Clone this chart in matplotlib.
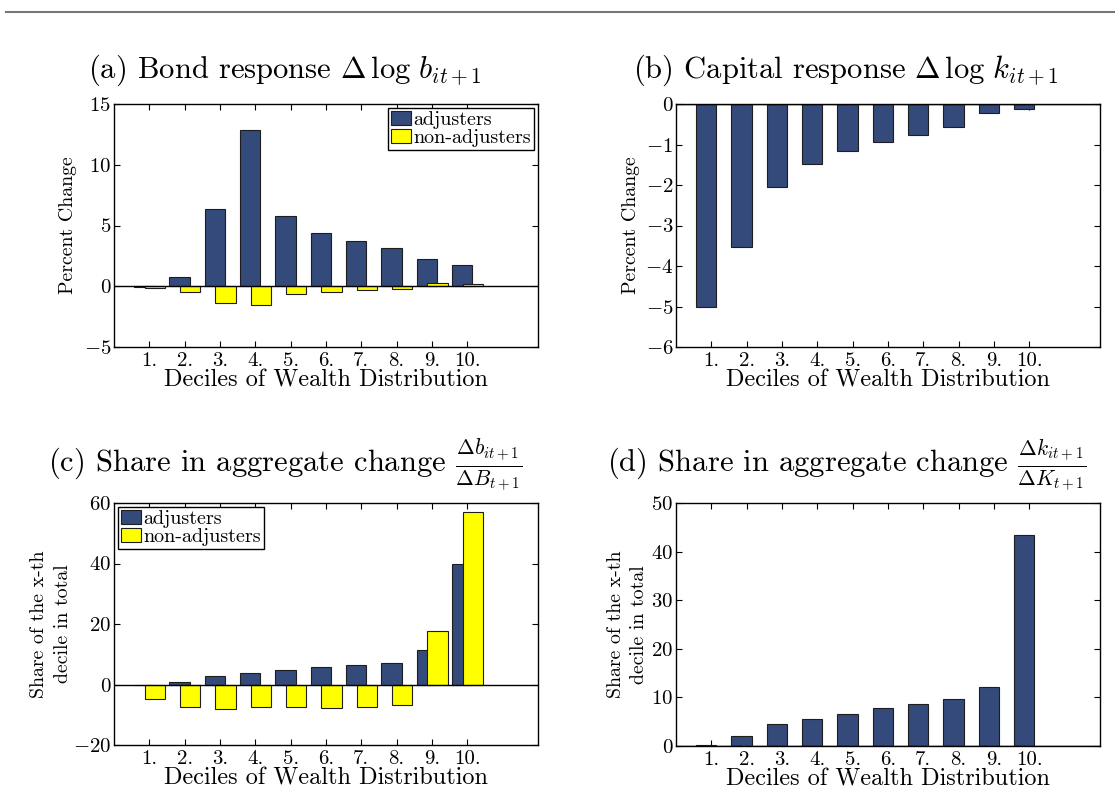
import matplotlib
matplotlib.use("Agg")
import matplotlib.pyplot as plt
from matplotlib.lines import Line2D
from matplotlib.patches import Patch
import numpy as np

plt.rcParams['font.family'] = 'serif'
plt.rcParams['font.serif'] = ['cmr10', 'DejaVu Serif']
plt.rcParams['mathtext.fontset'] = 'cm'
plt.rcParams['axes.formatter.use_mathtext'] = True
plt.rcParams['axes.unicode_minus'] = True

deciles = ['1.', '2.', '3.', '4.', '5.', '6.', '7.', '8.', '9.', '10.']
series_names = ['adjusters', 'non-adjusters']

# (a) Bond response, percent change
bond_adj = [-0.1, 0.74, 6.39, 12.86, 5.76, 4.35, 3.75, 3.11, 2.26, 1.79]
bond_non = [-0.17, -0.47, -1.35, -1.52, -0.66, -0.47, -0.33, -0.25, 0.30, 0.19]
# (b) Capital response, percent change
cap_adj = [-5.0, -3.52, -2.06, -1.49, -1.16, -0.93, -0.76, -0.56, -0.23, -0.12]
cap_non = [0, 0, 0, 0, 0, 0, 0, 0, 0, 0]
# (c) Share in aggregate bond change
bshare_adj = [-0.3, 0.9, 2.9, 3.85, 4.84, 5.7, 6.6, 7.26, 11.4, 39.7]
bshare_non = [-4.7, -7.5, -8.25, -7.4, -7.4, -7.7, -7.5, -6.8, 17.7, 56.9]
# (d) Share in aggregate capital change
kshare_adj = [0.3, 2.13, 4.47, 5.5, 6.53, 7.77, 8.73, 9.63, 12.17, 43.47]
kshare_non = [0, 0, 0, 0, 0, 0, 0, 0, 0, 0]

titles = [r'(a) Bond response $\Delta\,\log\, b_{it+1}$',
          r'(b) Capital response $\Delta\,\log\, k_{it+1}$',
          r'(c) Share in aggregate change $\frac{\Delta b_{it+1}}{\Delta B_{t+1}}$',
          r'(d) Share in aggregate change $\frac{\Delta k_{it+1}}{\Delta K_{t+1}}$']
ylabels = ['Percent Change', 'Percent Change',
           'Share of the x-th\ndecile in total', 'Share of the x-th\ndecile in total']
xlabel = 'Deciles of Wealth Distribution'

BLUE = '#344a7b'
YELLOW = '#ffff00'
EDGE = '#1e1e1e'

W, H = 1115, 796
fig = plt.figure(figsize=(W / 100, H / 100), dpi=100)

def ax_rect(l, r, t, b):
    return [l / W, 1 - b / H, (r - l) / W, (b - t) / H]

rects = [ax_rect(114, 538, 104, 347), ax_rect(676, 1100, 104, 347),
         ax_rect(114, 538, 503, 745), ax_rect(676, 1100, 503, 746)]
data = [(bond_adj, bond_non), (cap_adj, cap_non),
        (bshare_adj, bshare_non), (kshare_adj, kshare_non)]
ylims = [(-5, 15), (-6, 0), (-20, 60), (0, 50)]
yticks = [np.arange(-5, 16, 5), np.arange(-6, 1, 1),
          np.arange(-20, 61, 20), np.arange(0, 51, 10)]
legend_locs = ['upper right', None, 'upper left', None]
title_pos = [(285, 78), (846, 78), (285, 472), (847, 472)]
ylabel_pad = [5, 4, 1, 2]

x = np.arange(1, 11)
for i in range(4):
    ax = fig.add_axes(rects[i])
    adj, non = data[i]
    ax.bar(x - 0.147, adj, width=0.575, color=BLUE, edgecolor=EDGE, linewidth=0.8, zorder=2)
    ax.bar(x + 0.155, non, width=0.575, color=YELLOW, edgecolor=EDGE if any(non) else YELLOW,
           linewidth=0.8, zorder=3)
    ax.axhline(0, color='black', linewidth=1.0, zorder=4)
    ax.set_xlim(0, 12)
    ax.set_ylim(*ylims[i])
    ax.set_yticks(yticks[i])
    ax.set_xticks(x)
    ax.set_xticklabels(deciles)
    ax.tick_params(direction='in', top=True, right=True, length=4, width=0.8,
                   labelsize=15, pad=2)
    ax.tick_params(axis='x', pad=4)
    for s in ax.spines.values():
        s.set_linewidth(1.0)
    ax.set_xlabel(xlabel, fontsize=17.5, labelpad=-1)
    ax.set_ylabel(ylabels[i], fontsize=14.3, labelpad=ylabel_pad[i], linespacing=1.4)
    if legend_locs[i]:
        handles = [Patch(facecolor=BLUE, edgecolor=EDGE, linewidth=0.8),
                   Patch(facecolor=YELLOW, edgecolor=EDGE, linewidth=0.8)]
        leg = ax.legend(handles, series_names, loc=legend_locs[i], fontsize=14.5,
                        handlelength=1.0, handleheight=0.7, handletextpad=0.1,
                        borderpad=0.15, labelspacing=0.0, borderaxespad=0.2,
                        fancybox=False, framealpha=1, edgecolor='black')
        leg.get_frame().set_linewidth(1.0)
    tx, ty = title_pos[i]
    fig.text(tx / W, 1 - ty / H, titles[i], fontsize=22, ha='center', va='baseline')

fig.add_artist(Line2D([6 / W, 1.0], [1 - 12 / H, 1 - 12 / H], color='#777777', linewidth=1.5))

fig.savefig('out.png', dpi=100)
